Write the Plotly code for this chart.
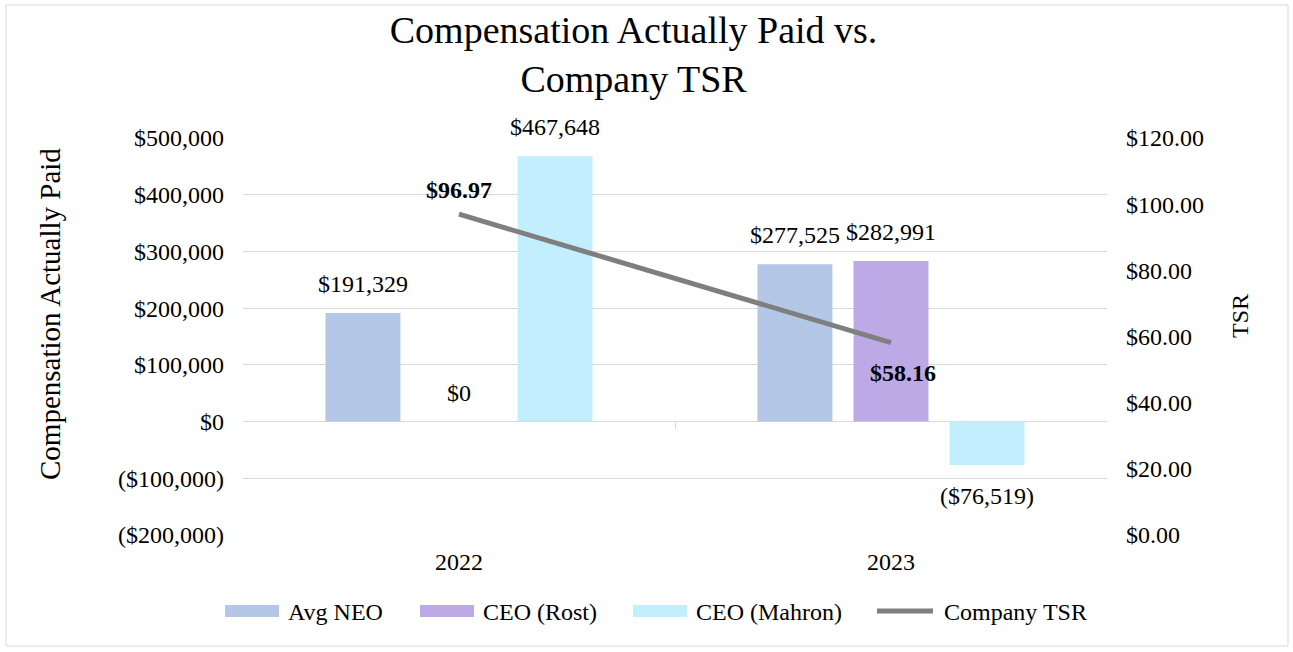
import plotly.graph_objects as go

years = ["2022", "2023"]
avg_neo = [191329, 277525]
ceo_rost = [0, 282991]
ceo_mahron = [467648, -76519]
tsr = [96.97, 58.16]

left_tickvals = [-200000, -100000, 0, 100000, 200000, 300000, 400000, 500000]
left_ticktext = ["($200,000)", "($100,000)", "$0", "$100,000", "$200,000", "$300,000", "$400,000", "$500,000"]
right_tickvals = [0, 20, 40, 60, 80, 100, 120]
right_ticktext = ["$0.00", "$20.00", "$40.00", "$60.00", "$80.00", "$100.00", "$120.00"]

FONT = "Liberation Serif, Times New Roman, serif"
W, H = 1293, 652
ML, MR, MT, MB = 243, 186, 138, 117
PW, PH = W - ML - MR, H - MT - MB
BARGAP, GROUPGAP = 0.333, 0.22


def px_x(p):
    return (p - ML) / PW


def px_y(p):
    return (H - MB - p) / PH


def money(v):
    return f"${v:,.0f}" if v >= 0 else f"(${-v:,.0f})"


series = [("Avg NEO", avg_neo, "#B4C7E7"), ("CEO (Rost)", ceo_rost, "#BDA9E5"), ("CEO (Mahron)", ceo_mahron, "#C2EEFD")]
TSR_COLOR = "#7F7F7F"

fig = go.Figure()
for name, vals, color in series:
    fig.add_trace(go.Bar(x=years, y=vals, name=name, marker=dict(color=color, line=dict(width=0)),
                         showlegend=False))

fig.add_trace(go.Scatter(x=years, y=tsr, name="Company TSR", yaxis="y2", mode="lines",
                         line=dict(color=TSR_COLOR, width=5), cliponaxis=False, showlegend=False))

# helper invisible trace for the zero-line category axis ticks
fig.add_trace(go.Scatter(x=years, y=[0, 0], xaxis="x2", mode="markers", marker=dict(opacity=0),
                         showlegend=False, hoverinfo="skip"))

annotations = []
# bar value labels, offset to each bar's slot inside its group
slot = PW / len(years) * (1 - BARGAP) / len(series)
for j, (name, vals, color) in enumerate(series):
    for i, v in enumerate(vals):
        annotations.append(dict(
            x=i, y=v, xref="x", yref="y", text=money(v), showarrow=False,
            xshift=(j - (len(series) - 1) / 2) * slot, yshift=29 if v >= 0 else -31,
            xanchor="center", yanchor="middle", font=dict(family=FONT, size=24, color="#000000")))

# TSR labels
tsr_shift = [(0, 24), (12, -30)]
for i, v in enumerate(tsr):
    annotations.append(dict(
        x=i, y=v, xref="x", yref="y2", text=f"<b>${v:.2f}</b>", showarrow=False,
        xshift=tsr_shift[i][0], yshift=tsr_shift[i][1], font=dict(family=FONT, size=24, color="#000000")))

# axis titles
annotations.append(dict(x=px_x(50), y=px_y(314), xref="paper", yref="paper", text="Compensation Actually Paid",
                        textangle=-90, showarrow=False, xanchor="center", yanchor="middle",
                        font=dict(family=FONT, size=29, color="#000000")))
annotations.append(dict(x=px_x(1240), y=px_y(316), xref="paper", yref="paper", text="TSR",
                        textangle=-90, showarrow=False, xanchor="center", yanchor="middle",
                        font=dict(family=FONT, size=24, color="#000000")))

# legend (custom, with wide symbols)
shapes = [dict(type="rect", xref="paper", yref="paper", x0=px_x(6), x1=px_x(1288),
               y0=px_y(646), y1=px_y(5), line=dict(color="#D9D9D9", width=1),
               fillcolor="rgba(0,0,0,0)", layer="below")]
legend_items = [("Avg NEO", "#B4C7E7", "bar", 225), ("CEO (Rost)", "#BDA9E5", "bar", 420),
                ("CEO (Mahron)", "#C2EEFD", "bar", 633), ("Company TSR", TSR_COLOR, "line", 875)]
LEG_Y = 611
for label, color, kind, x0 in legend_items:
    if kind == "bar":
        shapes.append(dict(type="rect", xref="paper", yref="paper", x0=px_x(x0), x1=px_x(x0 + 54),
                           y0=px_y(LEG_Y + 6), y1=px_y(LEG_Y - 6), line=dict(width=0), fillcolor=color))
        tx = x0 + 61
    else:
        shapes.append(dict(type="line", xref="paper", yref="paper", x0=px_x(x0 + 2), x1=px_x(x0 + 58),
                           y0=px_y(LEG_Y), y1=px_y(LEG_Y), line=dict(color=color, width=5)))
        tx = x0 + 67
    annotations.append(dict(x=px_x(tx), y=px_y(LEG_Y + 1), xref="paper", yref="paper", text=label,
                            showarrow=False, xanchor="left", yanchor="middle",
                            font=dict(family=FONT, size=24, color="#000000")))

fig.update_layout(
    width=W, height=H,
    margin=dict(l=ML, r=MR, t=MT, b=MB),
    paper_bgcolor="white", plot_bgcolor="white",
    font=dict(family=FONT, color="#000000", size=24),
    title=dict(text="Compensation Actually Paid vs.<br>Company TSR", x=0.49, xanchor="center",
               yref="container", y=1 - 43 / H, yanchor="middle",
               font=dict(size=38, family=FONT, color="#000000")),
    barmode="group", bargap=BARGAP, bargroupgap=GROUPGAP,
    showlegend=False,
    xaxis=dict(type="category", showgrid=False, showline=False, ticks="", zeroline=False,
               tickfont=dict(size=24), ticklabelstandoff=10),
    xaxis2=dict(type="category", overlaying="x", anchor="free", position=px_y(H - MB - 114), side="bottom",
                showgrid=False, showline=False, ticks="outside", tickson="boundaries", ticklen=7,
                tickcolor="#D9D9D9", showticklabels=False, zeroline=False),
    yaxis=dict(range=[-200000, 500000], tickvals=left_tickvals, ticktext=left_ticktext,
               showgrid=True, gridcolor="#D9D9D9", gridwidth=1, zeroline=True, zerolinecolor="#D9D9D9",
               zerolinewidth=1, showline=False, ticklabelstandoff=18, tickfont=dict(size=24)),
    yaxis2=dict(range=[0, 120], tickvals=right_tickvals, ticktext=right_ticktext, overlaying="y",
                side="right", showgrid=False, zeroline=False, showline=False, ticklabelstandoff=18,
                tickfont=dict(size=24)),
    annotations=annotations,
    shapes=shapes,
)

fig.write_html("out.html", config={"displayModeBar": False},
               post_script="document.body.style.margin='0';document.body.style.overflow='hidden';")
